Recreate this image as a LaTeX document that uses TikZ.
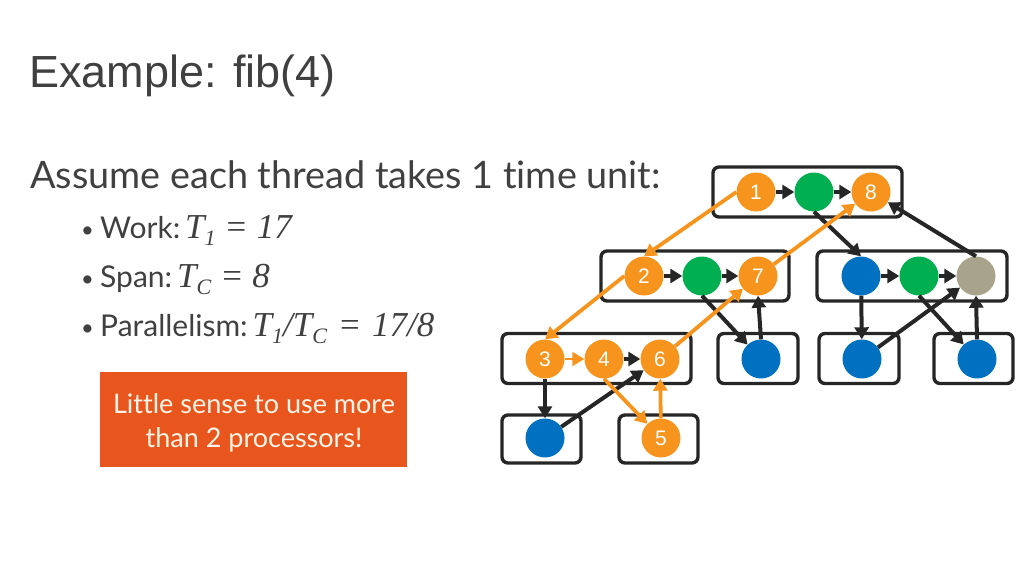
\documentclass[tikz,border=0pt]{standalone}
\usepackage{fontspec}
\setmainfont{Lato}[Ligatures=NoCommon]
\newfontfamily\titlefont{Liberation Sans}
\newfontfamily\mathfont{Liberation Serif}
\usetikzlibrary{arrows.meta}

\definecolor{taskorange}{HTML}{F7941D}
\definecolor{taskgreen}{HTML}{00B050}
\definecolor{taskblue}{HTML}{0070C0}
\definecolor{taskgray}{HTML}{A8A48C}
\definecolor{alertred}{HTML}{E8561E}
\definecolor{notetext}{HTML}{FFF4E6}
\definecolor{textgray}{HTML}{404040}

% italic formula pieces
\newcommand{\fml}[1]{{\mathfont\itshape\fontsize{35}{40}\selectfont #1}}
\newcommand{\lowsub}[1]{\raisebox{-0.45ex}{\fontsize{22}{22}\selectfont #1}}

\begin{document}
\begin{tikzpicture}[x=1pt,y=-1pt,
    box/.style={draw=black!85, line width=3.4pt, rounded corners=6pt, minimum height=50, inner sep=0},
    task/.style={circle, minimum size=39, inner sep=0, text=white, font=\titlefont\fontsize{21}{21}\selectfont},
    ora/.style={task, fill=taskorange},
    grn/.style={task, fill=taskgreen},
    blu/.style={task, fill=taskblue},
    gry/.style={task, fill=taskgray},
    link/.style={line width=4pt, draw=black!85, -{Triangle[length=12pt,width=14pt]}},
    olink/.style={line width=3.8pt, draw=taskorange, -{Triangle[length=12pt,width=14pt]}},
    bodytext/.style={anchor=base west, inner sep=0, text=textgray},
    dot/.style={bodytext, font=\fontsize{22}{26}\selectfont}]
\useasboundingbox (0,0) rectangle (1024,576);

% text on the left
\node [bodytext, font=\titlefont\fontsize{45}{54}\selectfont] (title) at (29,87) {Example: fib(4)};
\node [bodytext, font=\fontsize{37.8}{44}\selectfont] (assume) at (30,188) {Assume each thread takes 1 time unit:};
\node [dot] (dot1) at (81,237) {\textbullet};
\node [dot] (dot2) at (81,286) {\textbullet};
\node [dot] (dot3) at (81,335) {\textbullet};
\node [bodytext, font=\fontsize{30}{36}\selectfont] (work) at (100,238) {Work:\hspace{5pt}\fml{T\lowsub{1} = 17}};
\node [bodytext, font=\fontsize{30}{36}\selectfont] (span) at (100,287) {Span:\hspace{5pt}\fml{T\lowsub{C} = 8}};
\node [bodytext, font=\fontsize{30}{36}\selectfont] (par) at (100,336) {Parallelism:\hspace{5pt}\fml{T\lowsub{1}/T\lowsub{C} \hspace{2pt}=\hspace{2pt} 17/8}};

\node [fill=alertred, minimum width=307, minimum height=95] (note) at (253.5,419.5) {};
\node [anchor=base, inner sep=0, text=notetext, font=\fontsize{27}{34}\selectfont] (note1) at (254,413) {Little sense to use more};
\node [anchor=base, inner sep=0, text=notetext, font=\fontsize{27}{34}\selectfont] (note2) at (254,447) {than 2 processors!};

% boxes
\node [box, minimum width=189] (k1) at (807.5,192) {};
\node [box, minimum width=188] (k2) at (695,276) {};
\node [box, minimum width=190] (k3) at (912,276) {};
\node [box, minimum width=189] (k4) at (596.5,358.5) {};
\node [box, minimum width=80] (k5) at (758,358.5) {};
\node [box, minimum width=80] (k6) at (859,358.5) {};
\node [box, minimum width=79] (k7) at (973.5,358.5) {};
\node [box, minimum width=79, minimum height=48] (k8) at (541.5,439) {};
\node [box, minimum width=79, minimum height=48] (k9) at (658.5,439) {};

% threads
\node [ora] (n1) at (756,192) {1};
\node [grn] (ga) at (814,192) {};
\node [ora] (n8) at (871,192) {8};
\node [ora] (n2) at (644,276) {2};
\node [grn] (gb) at (702,276) {};
\node [ora] (n7) at (758,276) {7};
\node [blu] (ba) at (861,276) {};
\node [grn] (gc) at (919,276) {};
\node [gry] (wa) at (976,276) {};
\node [ora] (n3) at (545,359) {3};
\node [ora] (n4) at (604,359) {4};
\node [ora] (n6) at (660,359) {6};
\node [blu] (bb) at (761,359) {};
\node [blu] (bc) at (862,359) {};
\node [blu] (bd) at (977,359) {};
\node [blu] (be) at (545,438) {};
\node [ora] (n5) at (661,438) {5};

% black edges
\draw [link] (n1) -- (ga);
\draw [link] (ga) -- (n8);
\draw [link] (ga.south) -- (ba.north);
\draw [link] (wa.north) -- (n8);
\draw [link] (n2) -- (gb);
\draw [link] (gb) -- (n7);
\draw [link] (gb.south) -- (bb);
\draw [link] (bb.north) -- (n7.south);
\draw [link] (ba) -- (gc);
\draw [link] (gc) -- (wa);
\draw [link] (ba) -- (bc);
\draw [link] (bc) -- (wa);
\draw [link] (gc.south) -- (bd);
\draw [link] (bd.north) -- (wa.south);
\draw [link] (n4) -- (n6);
\draw [link] (n3.south) -- (be.north);
\draw [link] (be) -- (n6);

% critical path
\draw [olink] (n1.west) -- (n2.north);
\draw [olink] (n2.west) -- (n3.north);
\draw [olink, line width=2.4pt] (n3) -- (n4);
\draw [olink] (n4.south) -- (n5);
\draw [olink] (n5) -- (n6);
\draw [olink] (n6) -- (n7);
\draw [olink] (n7) -- (n8);

\end{tikzpicture}
\end{document}
